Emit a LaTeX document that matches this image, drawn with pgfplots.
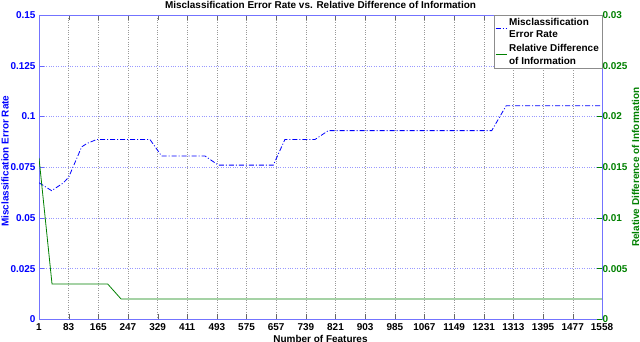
\documentclass[border=0pt]{standalone}
\usepackage{fontspec}
\setmainfont{Liberation Sans}
\usepackage{pgfplots}
\pgfplotsset{compat=1.18}
\usepackage{pgfplotstable}
\usetikzlibrary{calc}

\definecolor{mblue}{RGB}{0,0,255}
\definecolor{mgreen}{RGB}{0,128,0}

% misclassification error rate (left axis)
\pgfplotstableread{
f err
1 0.0673
36 0.0634
68 0.0672
83 0.0700
119 0.0850
134 0.0867
160 0.0886
308 0.0886
340 0.0805
460 0.0805
497 0.0760
649 0.0760
681 0.0886
764 0.0886
801 0.0930
1253 0.0930
1293 0.1053
1558 0.1053
}\errtable

% relative difference of information (right axis)
\pgfplotstableread{
f rdi
1 0.0159
37 0.00348
191 0.00348
228 0.00200
1558 0.00200
}\rditable

\begin{document}
\begin{tikzpicture}
\pgfplotsset{
  every axis/.append style={
    scale only axis, width=563bp, height=304.3bp,
    xmin=1, xmax=1558,
    font=\fontsize{10}{12.5}\selectfont\bfseries,
    tick align=inside,
    major tick length=5bp,
    scaled ticks=false,
  },
}
\begin{axis}[
  name=ax,
  ymin=0, ymax=0.15,
  xtick={1,83,165,247,329,411,493,575,657,739,821,903,985,1067,1149,1231,1313,1395,1477,1558},
  xticklabels={1,83,165,247,329,411,493,575,657,739,821,903,985,1067,1149,1231,1313,1395,1477,1558},
  ytick={0,0.025,0.05,0.075,0.1,0.125,0.15},
  yticklabels={0,0.025,0.05,0.075,0.1,0.125,0.15},
  ytick pos=left,
  xtick pos=both,
  x axis line style={black!55},
  y axis line style={mblue!55},
  x tick style={black!60},
  y tick style={mblue!60},
  yticklabel style={text=mblue},
  xticklabel style={anchor=base, yshift=-10.7bp},
  xmajorgrids, ymajorgrids,
  x grid style={black!40, dotted},
  y grid style={mblue!40, dotted},
  every axis title shift=0pt,
  title={Misclassification Error Rate vs. Relative Difference of Information},
  title style={at={(0.5,1)}, anchor=base, yshift=6.5bp},
  xlabel={Number of Features},
  xlabel style={at={(0.5,0)}, anchor=base, yshift=-23bp},
  ylabel={Misclassification Error Rate},
  every axis y label/.style={at={(axis description cs:-0.0604,0.52)}, anchor=center, rotate=90, text=mblue},
]
\addplot[mblue, line width=0.8bp, dash pattern=on 5bp off 2bp on 1bp off 2bp] table[x=f, y=err] {\errtable};
\end{axis}
\begin{axis}[
  ymin=0, ymax=0.03,
  axis x line=none,
  axis y line*=right,
  y axis line style={mblue!55},
  ytick={0,0.005,0.01,0.015,0.02,0.025,0.03},
  yticklabels={0,0.005,0.01,0.015,0.02,0.025,0.03},
  y tick style={mgreen},
  yticklabel style={text=mgreen, anchor=west, xshift=-3bp},
  ylabel={Relative Difference of Information},
  every axis y label/.style={at={(axis description cs:1.0598,0.5)}, anchor=center, rotate=90, text=mgreen},
  legend style={at={(rel axis cs:1,1)}, anchor=north east, draw=black!45, fill=white,
    inner sep=1bp, row sep=1bp, cells={align=left, anchor=west},
    font=\fontsize{10}{12.5}\selectfont\bfseries},
  legend image code/.code={\draw[line width=1bp, #1] (0bp,0bp) -- (11bp,0bp);},
]
\addlegendimage{mblue, dash pattern=on 5bp off 2bp on 1bp off 2bp}
\addlegendentry{Misclassification\\Error Rate}
\addplot[mgreen, line width=0.8bp] table[x=f, y=rdi] {\rditable};
\addlegendentry{Relative Difference\\of Information}
\end{axis}
\pgfresetboundingbox
\path[use as bounding box] ($(ax.south west)+(-39bp,-22.7bp)$) rectangle ($(ax.north east)+(38bp,15bp)$);
\end{tikzpicture}
\end{document}
